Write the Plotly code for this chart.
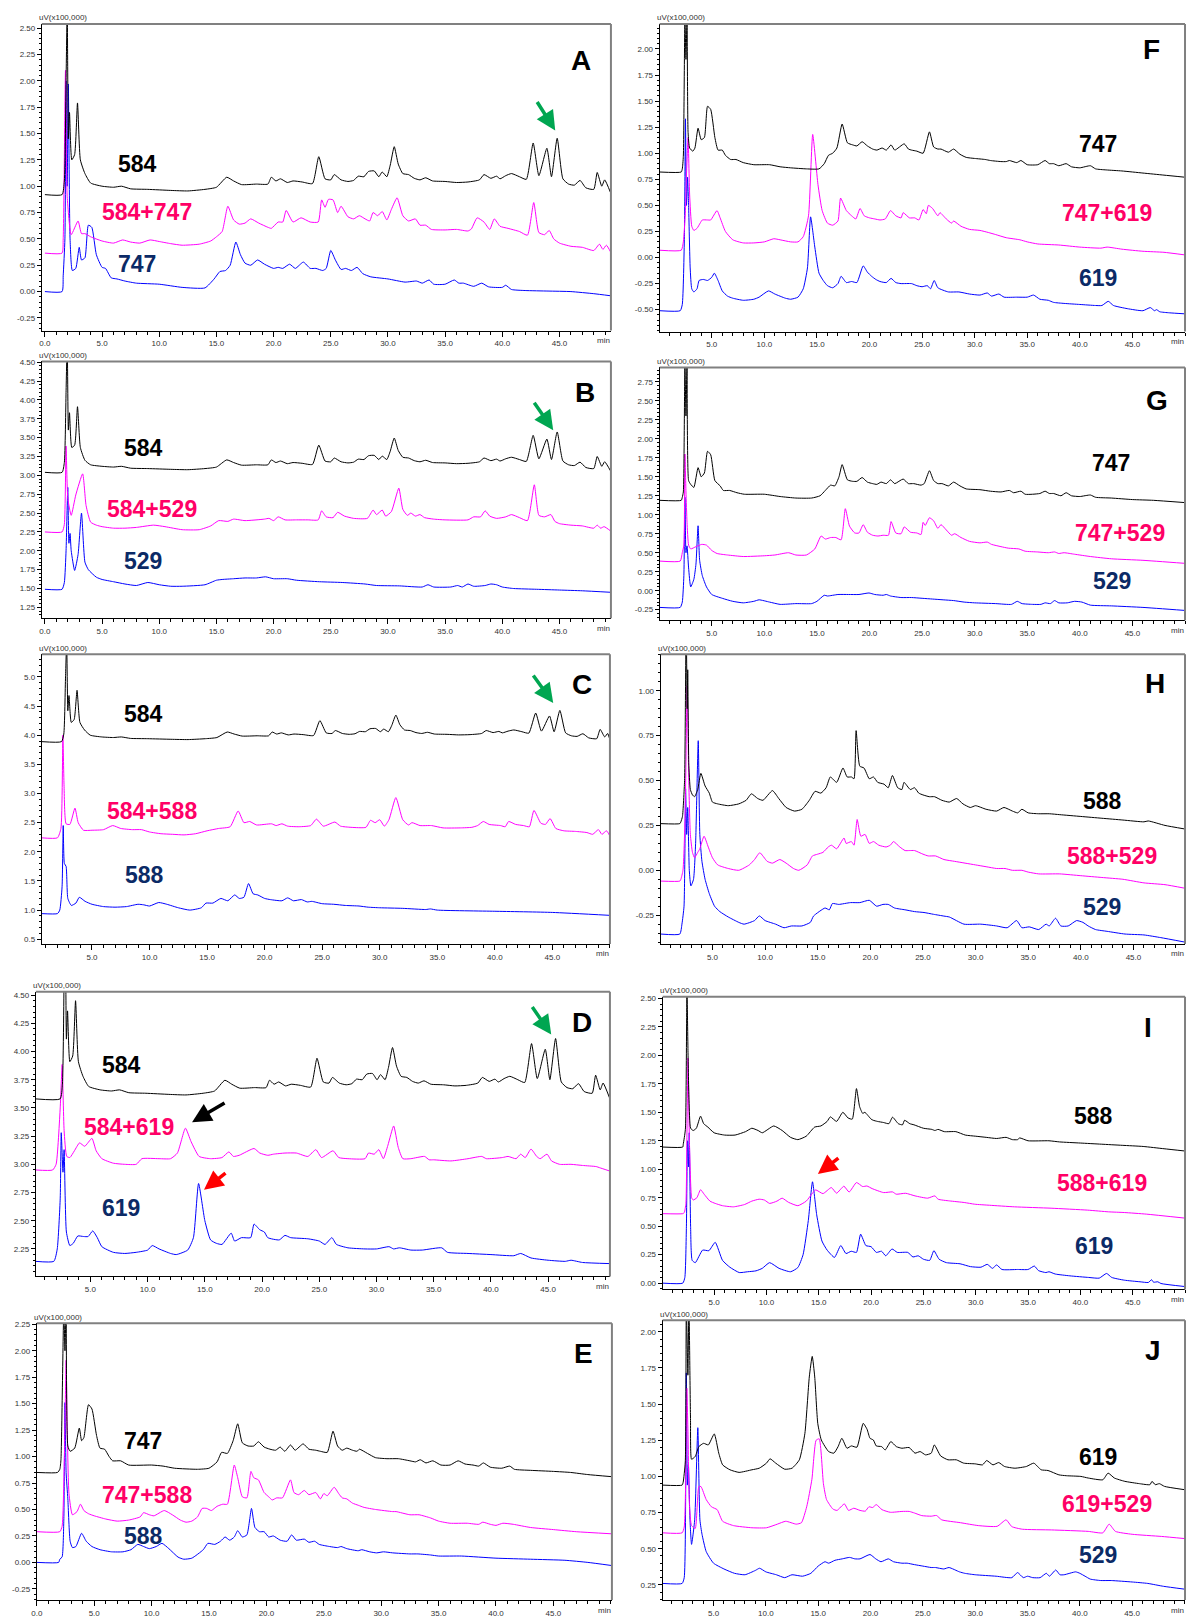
import plotly.graph_objects as go

FIG_W, FIG_H = 1187, 1618

# ---------------- tick labels ----------------
X_TICKS = ["0.0", "5.0", "10.0", "15.0", "20.0", "25.0", "30.0", "35.0", "40.0", "45.0"]
A_YT = ["-0.25", "0.00", "0.25", "0.50", "0.75", "1.00", "1.25", "1.50", "1.75", "2.00", "2.25", "2.50"]
B_YT = ["1.25", "1.50", "1.75", "2.00", "2.25", "2.50", "2.75", "3.00", "3.25", "3.50", "3.75", "4.00", "4.25", "4.50"]
C_YT = ["0.5", "1.0", "1.5", "2.0", "2.5", "3.0", "3.5", "4.0", "4.5", "5.0"]
D_YT = ["2.25", "2.50", "2.75", "3.00", "3.25", "3.50", "3.75", "4.00", "4.25", "4.50"]
E_YT = ["-0.25", "0.00", "0.25", "0.50", "0.75", "1.00", "1.25", "1.50", "1.75", "2.00", "2.25"]
F_YT = ["-0.50", "-0.25", "0.00", "0.25", "0.50", "0.75", "1.00", "1.25", "1.50", "1.75", "2.00"]
G_YT = ["-0.25", "0.00", "0.25", "0.50", "0.75", "1.00", "1.25", "1.50", "1.75", "2.00", "2.25", "2.50", "2.75"]
H_YT = ["-0.25", "0.00", "0.25", "0.50", "0.75", "1.00"]
I_YT = ["0.00", "0.25", "0.50", "0.75", "1.00", "1.25", "1.50", "1.75", "2.00", "2.25", "2.50"]
J_YT = ["0.25", "0.50", "0.75", "1.00", "1.25", "1.50", "1.75", "2.00"]

# ---------------- chromatogram data: (time min, signal uV x100,000) ----------------
A_584 = [(0,0.92),(1.5,0.92),(1.7,1.05),(1.85,2.0),(1.95,2.7),(2.05,1.45),(2.15,1.70),(2.35,1.25),(2.6,1.30),(2.85,1.79),(3.1,1.25),(3.5,1.12),(4.0,1.03),(5.0,1.0),(6.0,0.99),(6.7,1.0),(7.5,0.975),(9.0,0.97),(11.0,0.96),(12.5,0.955),(14.0,0.97),(15.0,0.99),(15.9,1.085),(16.5,1.05),(17.2,1.015),(18.5,1.02),(19.5,1.02),(19.8,1.085),(20.2,1.05),(20.6,1.07),(21.2,1.035),(21.7,1.05),(22.5,1.04),(23.4,1.025),(23.95,1.28),(24.5,1.07),(25.0,1.06),(25.3,1.11),(25.9,1.06),(26.5,1.045),(27.0,1.055),(27.4,1.095),(27.9,1.09),(28.3,1.14),(28.8,1.145),(29.2,1.09),(29.5,1.135),(29.9,1.09),(30.2,1.2),(30.55,1.375),(30.9,1.21),(31.3,1.12),(31.8,1.11),(32.3,1.075),(32.8,1.06),(33.3,1.08),(33.9,1.05),(35.0,1.045),(36.0,1.035),(37.0,1.04),(38.0,1.06),(38.4,1.11),(39.0,1.075),(39.5,1.095),(39.8,1.07),(40.3,1.10),(40.8,1.12),(41.5,1.09),(42.1,1.065),(42.7,1.41),(43.2,1.1),(43.9,1.36),(44.3,1.09),(44.8,1.455),(45.3,1.07),(45.8,1.02),(46.3,1.01),(46.8,1.055),(47.3,0.985),(48.0,0.97),(48.3,1.13),(48.7,1.0),(48.95,1.06),(49.5,0.93)]
A_MIX = [(0,0.365),(1.5,0.365),(1.6,0.5),(1.8,2.1),(1.95,0.9),(2.3,0.54),(2.9,0.67),(3.2,0.55),(3.5,0.55),(4.0,0.52),(5.0,0.48),(6.0,0.46),(6.8,0.49),(7.5,0.47),(8.3,0.46),(9.2,0.49),(10.0,0.475),(11.0,0.455),(12.0,0.44),(13.5,0.45),(14.5,0.48),(15.0,0.52),(15.5,0.57),(16.0,0.81),(16.5,0.68),(17.0,0.64),(17.5,0.65),(18.0,0.69),(18.7,0.65),(19.5,0.61),(19.8,0.60),(20.4,0.66),(20.8,0.66),(21.1,0.77),(21.7,0.66),(22.4,0.70),(23.2,0.66),(23.9,0.66),(24.2,0.87),(24.5,0.80),(24.8,0.875),(25.2,0.87),(25.6,0.75),(25.9,0.81),(26.5,0.71),(27.0,0.69),(27.5,0.72),(28.0,0.69),(28.4,0.67),(28.7,0.75),(29.1,0.72),(29.5,0.76),(29.9,0.68),(30.3,0.78),(30.8,0.89),(31.3,0.72),(31.8,0.67),(32.4,0.69),(32.8,0.63),(33.3,0.63),(33.8,0.59),(35.0,0.585),(36.0,0.59),(37.0,0.575),(37.3,0.595),(37.8,0.70),(38.4,0.66),(38.9,0.59),(39.3,0.69),(39.8,0.62),(40.5,0.60),(41.5,0.57),(42.2,0.535),(42.75,0.845),(43.2,0.56),(43.7,0.54),(44.1,0.58),(44.5,0.50),(45.0,0.46),(46.0,0.43),(47.0,0.42),(48.0,0.39),(48.5,0.45),(48.8,0.40),(49.1,0.44),(49.5,0.37)]
A_747 = [(0,0.0),(1.5,0.0),(1.6,0.15),(1.75,0.5),(1.85,2.0),(1.95,1.0),(2.05,1.97),(2.2,0.5),(2.4,0.2),(2.7,0.22),(3.0,0.42),(3.2,0.30),(3.5,0.32),(3.8,0.63),(4.1,0.61),(4.5,0.35),(5.0,0.23),(5.3,0.22),(5.8,0.13),(6.3,0.12),(7.0,0.10),(8.0,0.08),(10.0,0.07),(12.0,0.04),(14.0,0.035),(14.8,0.12),(15.3,0.19),(15.8,0.20),(16.2,0.25),(16.7,0.47),(17.1,0.35),(17.5,0.27),(18.0,0.25),(18.6,0.30),(19.2,0.26),(20.0,0.22),(20.4,0.23),(20.8,0.22),(21.4,0.26),(21.9,0.22),(22.6,0.28),(23.2,0.22),(23.7,0.22),(24.3,0.20),(24.6,0.22),(25.0,0.39),(25.4,0.30),(25.9,0.21),(26.3,0.22),(26.8,0.20),(27.3,0.23),(27.8,0.17),(28.5,0.14),(30.0,0.12),(31.5,0.09),(32.5,0.10),(33.0,0.08),(33.6,0.11),(34.0,0.07),(35.0,0.07),(35.8,0.11),(36.2,0.08),(36.6,0.08),(37.5,0.05),(38.2,0.08),(38.8,0.045),(40.0,0.04),(40.3,0.06),(40.8,0.02),(42.0,0.01),(44.0,0.005),(46.0,0.0),(48.0,-0.02),(49.5,-0.04)]

B_584 = [(0,3.04),(1.5,3.04),(1.7,3.17),(1.85,4.1),(1.95,4.8),(2.05,3.6),(2.15,3.83),(2.35,3.37),(2.6,3.40),(2.85,3.91),(3.1,3.37),(3.5,3.20),(4.0,3.14),(5.0,3.12),(6.0,3.11),(6.7,3.12),(7.5,3.095),(9.0,3.09),(11.0,3.08),(12.5,3.075),(14.0,3.09),(15.0,3.11),(15.9,3.205),(16.5,3.17),(17.2,3.135),(18.5,3.14),(19.5,3.14),(19.8,3.205),(20.2,3.17),(20.6,3.19),(21.2,3.155),(21.7,3.17),(22.5,3.16),(23.4,3.145),(23.95,3.40),(24.5,3.19),(25.0,3.18),(25.3,3.23),(25.9,3.18),(26.5,3.165),(27.0,3.175),(27.4,3.215),(27.9,3.21),(28.3,3.26),(28.8,3.265),(29.2,3.21),(29.5,3.255),(29.9,3.21),(30.2,3.32),(30.55,3.495),(30.9,3.33),(31.3,3.24),(31.8,3.23),(32.3,3.195),(32.8,3.18),(33.3,3.20),(33.9,3.17),(35.0,3.165),(36.0,3.155),(37.0,3.16),(38.0,3.18),(38.4,3.23),(39.0,3.195),(39.5,3.215),(39.8,3.19),(40.3,3.22),(40.8,3.24),(41.5,3.21),(42.1,3.185),(42.7,3.53),(43.2,3.22),(43.9,3.48),(44.3,3.21),(44.8,3.575),(45.3,3.19),(45.8,3.14),(46.3,3.13),(46.8,3.175),(47.3,3.105),(48.0,3.09),(48.3,3.25),(48.7,3.12),(48.95,3.18),(49.5,3.05)]
B_MIX = [(0,2.25),(1.5,2.25),(1.7,2.35),(1.85,3.39),(2.0,2.7),(2.3,2.47),(2.7,2.74),(3.3,3.02),(3.6,2.6),(4.0,2.38),(4.5,2.34),(5.0,2.32),(6.0,2.30),(7.0,2.30),(8.0,2.31),(9.5,2.34),(10.5,2.32),(12.0,2.28),(13.5,2.28),(14.5,2.33),(15.2,2.40),(16.0,2.39),(16.5,2.42),(17.5,2.40),(19.2,2.42),(19.6,2.43),(20.0,2.40),(20.4,2.45),(21.0,2.41),(22.0,2.41),(23.0,2.41),(23.9,2.41),(24.2,2.53),(24.6,2.45),(25.2,2.44),(25.6,2.51),(26.2,2.46),(27.0,2.43),(28.2,2.43),(28.7,2.54),(29.0,2.48),(29.5,2.54),(29.8,2.46),(30.3,2.52),(30.95,2.83),(31.3,2.55),(31.7,2.47),(32.0,2.50),(32.4,2.46),(32.8,2.48),(33.2,2.44),(34.0,2.42),(35.0,2.41),(37.0,2.41),(37.5,2.45),(38.1,2.45),(38.5,2.53),(38.9,2.46),(39.5,2.43),(40.3,2.45),(40.8,2.48),(41.5,2.44),(42.2,2.40),(42.8,2.875),(43.2,2.47),(43.7,2.45),(44.25,2.48),(44.6,2.39),(45.0,2.36),(46.0,2.34),(47.0,2.33),(48.0,2.30),(48.3,2.34),(48.6,2.30),(48.9,2.32),(49.5,2.26)]
B_529 = [(0,1.49),(1.5,1.49),(1.7,1.58),(1.85,2.0),(2.0,2.84),(2.1,2.1),(2.2,2.23),(2.3,2.0),(2.6,1.74),(2.9,1.95),(3.2,2.50),(3.5,1.85),(3.8,1.75),(4.5,1.65),(5.0,1.62),(6.0,1.59),(7.0,1.56),(8.0,1.54),(9.0,1.58),(10.0,1.55),(11.0,1.53),(12.0,1.53),(14.0,1.55),(15.0,1.61),(15.5,1.62),(16.5,1.63),(17.5,1.64),(18.5,1.64),(19.3,1.655),(20.0,1.63),(21.2,1.63),(22.0,1.61),(24.0,1.59),(26.0,1.58),(28.0,1.56),(29.0,1.54),(31.0,1.535),(33.0,1.52),(33.5,1.55),(34.0,1.52),(35.5,1.52),(36.1,1.54),(36.5,1.52),(37.0,1.56),(37.5,1.53),(38.5,1.54),(39.0,1.56),(39.5,1.55),(40.0,1.52),(41.0,1.50),(43.0,1.49),(45.0,1.48),(47.0,1.47),(49.5,1.45)]

C_584 = [(0.6,3.89),(2.35,3.89),(2.55,4.02),(2.7,5.0),(2.8,5.6),(2.9,4.42),(3.0,4.68),(3.2,4.22),(3.45,4.27),(3.7,4.77),(3.95,4.22),(4.35,4.09),(4.85,4.00),(5.85,3.97),(6.85,3.96),(7.55,3.97),(8.35,3.945),(9.85,3.94),(11.85,3.93),(13.35,3.925),(14.85,3.94),(15.85,3.96),(16.75,4.055),(17.35,4.02),(18.05,3.985),(19.35,3.99),(20.35,3.99),(20.65,4.055),(21.05,4.02),(21.45,4.04),(22.05,4.005),(22.55,4.02),(23.35,4.01),(24.25,3.995),(24.8,4.25),(25.35,4.04),(25.85,4.03),(26.15,4.08),(26.75,4.03),(27.35,4.015),(27.85,4.025),(28.25,4.065),(28.75,4.06),(29.15,4.11),(29.65,4.115),(30.05,4.06),(30.35,4.105),(30.75,4.06),(31.05,4.17),(31.4,4.345),(31.75,4.18),(32.15,4.09),(32.65,4.08),(33.15,4.045),(33.65,4.03),(34.15,4.05),(34.75,4.02),(35.85,4.015),(36.85,4.005),(37.85,4.01),(38.85,4.03),(39.25,4.08),(39.85,4.045),(40.35,4.065),(40.65,4.04),(41.15,4.07),(41.65,4.09),(42.35,4.06),(42.95,4.035),(43.55,4.38),(44.05,4.07),(44.75,4.33),(45.15,4.06),(45.65,4.425),(46.15,4.04),(46.65,3.99),(47.15,3.98),(47.65,4.025),(48.15,3.955),(48.85,3.94),(49.15,4.10),(49.55,3.97),(49.8,4.03),(50.0,3.92)]
C_MIX = [(0.6,2.24),(2.0,2.24),(2.3,2.4),(2.47,4.0),(2.57,3.15),(2.75,2.48),(3.08,2.47),(3.52,2.75),(3.8,2.5),(4.26,2.37),(5.0,2.37),(6.0,2.38),(6.8,2.45),(7.5,2.40),(8.5,2.38),(9.3,2.38),(10.0,2.34),(11.0,2.31),(12.0,2.30),(13.0,2.29),(14.0,2.31),(15.0,2.36),(16.0,2.40),(17.0,2.43),(17.7,2.70),(18.2,2.50),(18.7,2.52),(19.3,2.46),(20.6,2.48),(21.0,2.45),(21.5,2.48),(22.0,2.44),(23.0,2.43),(24.0,2.45),(24.5,2.56),(25.1,2.44),(26.1,2.51),(26.6,2.44),(27.5,2.42),(28.8,2.42),(29.2,2.54),(29.6,2.50),(30.0,2.55),(30.4,2.44),(30.8,2.55),(31.4,2.93),(32.0,2.55),(32.5,2.46),(32.8,2.50),(33.5,2.45),(34.5,2.45),(35.5,2.41),(37.0,2.41),(38.0,2.42),(38.5,2.45),(39.0,2.52),(39.5,2.47),(40.5,2.45),(40.9,2.43),(41.2,2.52),(41.8,2.47),(42.5,2.45),(43.0,2.43),(43.4,2.71),(44.0,2.49),(44.4,2.47),(44.8,2.57),(45.3,2.40),(46.0,2.36),(47.0,2.35),(48.0,2.33),(48.5,2.30),(49.0,2.38),(49.3,2.30),(49.7,2.36),(50.0,2.27)]
C_588 = [(0.6,0.94),(2.0,0.94),(2.2,1.0),(2.4,1.4),(2.5,2.45),(2.6,1.80),(2.75,1.75),(2.9,1.2),(3.2,1.08),(3.6,1.12),(3.9,1.22),(4.4,1.15),(5.0,1.10),(6.0,1.06),(7.0,1.05),(8.0,1.06),(9.0,1.10),(9.5,1.09),(10.0,1.07),(10.8,1.13),(11.5,1.10),(12.5,1.04),(13.5,1.00),(14.5,1.04),(14.9,1.12),(15.5,1.12),(16.2,1.20),(16.8,1.16),(17.4,1.26),(17.8,1.20),(18.2,1.22),(18.6,1.455),(19.0,1.28),(19.4,1.26),(20.0,1.20),(20.5,1.18),(21.5,1.16),(22.0,1.21),(22.5,1.16),(23.2,1.18),(23.7,1.14),(24.1,1.15),(25.0,1.11),(26.0,1.10),(27.0,1.08),(28.2,1.07),(29.0,1.05),(30.0,1.04),(32.0,1.03),(34.0,1.01),(34.4,1.02),(35.0,1.0),(40.0,0.98),(45.0,0.96),(50.0,0.91)]

D_584 = [(0.2,3.58),(2.35,3.58),(2.55,3.71),(2.7,4.66),(2.8,5.2),(2.9,4.11),(3.0,4.36),(3.2,3.91),(3.45,3.96),(3.7,4.45),(3.95,3.91),(4.35,3.78),(4.85,3.69),(5.85,3.66),(6.85,3.65),(7.55,3.66),(8.35,3.635),(9.85,3.63),(11.85,3.62),(13.35,3.615),(14.85,3.63),(15.85,3.65),(16.75,3.745),(17.35,3.71),(18.05,3.675),(19.35,3.68),(20.35,3.68),(20.65,3.745),(21.05,3.71),(21.45,3.73),(22.05,3.695),(22.55,3.71),(23.35,3.70),(24.25,3.685),(24.8,3.94),(25.35,3.73),(25.85,3.72),(26.15,3.77),(26.75,3.72),(27.35,3.705),(27.85,3.715),(28.25,3.755),(28.75,3.75),(29.15,3.80),(29.65,3.805),(30.05,3.75),(30.35,3.795),(30.75,3.75),(31.05,3.86),(31.4,4.035),(31.75,3.87),(32.15,3.78),(32.65,3.77),(33.15,3.735),(33.65,3.72),(34.15,3.74),(34.75,3.71),(35.85,3.705),(36.85,3.695),(37.85,3.70),(38.85,3.72),(39.25,3.77),(39.85,3.735),(40.35,3.755),(40.65,3.73),(41.15,3.76),(41.65,3.78),(42.35,3.75),(42.95,3.725),(43.55,4.07),(44.05,3.76),(44.75,4.02),(45.15,3.75),(45.65,4.115),(46.15,3.73),(46.65,3.68),(47.15,3.67),(47.65,3.715),(48.15,3.645),(48.85,3.63),(49.15,3.79),(49.55,3.66),(49.8,3.72),(50.4,3.58)]
D_MIX = [(0.2,2.95),(1.7,2.95),(2.0,3.0),(2.36,3.5),(2.53,3.885),(2.7,3.3),(2.93,3.07),(3.2,3.06),(3.6,3.12),(4.05,3.19),(4.5,3.16),(5.13,3.23),(5.5,3.12),(6.0,3.05),(7.0,3.01),(8.0,3.0),(9.0,3.0),(9.5,3.05),(11.0,3.05),(12.0,3.05),(12.6,3.1),(13.3,3.32),(13.8,3.2),(14.5,3.07),(15.5,3.05),(16.5,3.06),(17.1,3.11),(17.5,3.07),(18.0,3.08),(19.3,3.14),(19.8,3.10),(20.5,3.08),(21.0,3.09),(22.0,3.10),(23.0,3.10),(24.0,3.07),(24.7,3.13),(25.2,3.06),(26.2,3.12),(26.7,3.06),(27.5,3.05),(29.0,3.05),(29.3,3.10),(29.8,3.09),(30.2,3.13),(30.6,3.05),(31.0,3.17),(31.5,3.34),(31.9,3.15),(32.3,3.05),(33.0,3.05),(34.2,3.07),(34.6,3.04),(35.0,3.04),(36.5,3.03),(38.0,3.05),(39.2,3.07),(39.6,3.05),(41.0,3.06),(41.5,3.07),(42.2,3.05),(42.6,3.09),(43.0,3.06),(43.5,3.135),(44.0,3.07),(44.3,3.05),(44.9,3.09),(45.3,3.03),(46.0,3.0),(47.0,3.0),(48.0,2.99),(49.2,2.98),(49.5,2.97),(50.4,2.94)]
D_619 = [(0.2,2.14),(1.8,2.14),(2.1,2.25),(2.36,2.7),(2.45,3.28),(2.6,2.93),(2.7,3.13),(2.9,2.4),(3.2,2.28),(3.5,2.30),(3.9,2.365),(4.4,2.36),(4.8,2.36),(5.2,2.41),(5.6,2.35),(6.0,2.27),(7.0,2.22),(8.0,2.21),(9.0,2.22),(10.0,2.24),(10.4,2.28),(11.0,2.25),(12.0,2.21),(12.5,2.20),(13.5,2.24),(14.0,2.35),(14.45,2.83),(15.0,2.5),(15.5,2.33),(16.0,2.30),(16.5,2.29),(17.3,2.39),(17.6,2.32),(18.2,2.35),(19.0,2.35),(19.3,2.47),(19.8,2.42),(20.2,2.40),(20.5,2.35),(21.5,2.33),(22.0,2.37),(22.5,2.35),(24.0,2.34),(25.0,2.32),(25.5,2.29),(26.1,2.35),(26.5,2.29),(27.5,2.26),(29.0,2.25),(30.0,2.25),(31.1,2.27),(31.5,2.25),(32.0,2.26),(33.0,2.24),(34.0,2.24),(35.7,2.26),(36.2,2.22),(38.0,2.21),(40.0,2.20),(42.0,2.19),(42.6,2.21),(43.5,2.17),(45.0,2.15),(46.5,2.14),(47.0,2.15),(48.0,2.13),(50.4,2.12)]

E_747 = [(0,0.85),(1.8,0.85),(2.0,0.88),(2.1,0.97),(2.35,2.4),(2.45,2.0),(2.55,2.4),(2.7,1.1),(2.9,1.05),(3.3,1.08),(3.7,1.27),(3.9,1.15),(4.1,1.18),(4.5,1.49),(4.8,1.45),(5.2,1.2),(5.5,1.08),(5.9,1.07),(6.3,1.0),(6.6,0.96),(7.3,0.96),(8.0,0.92),(10.0,0.92),(11.0,0.91),(12.0,0.89),(14.0,0.88),(15.0,0.89),(15.7,0.95),(16.1,1.04),(16.6,1.03),(17.1,1.15),(17.5,1.31),(17.9,1.13),(18.4,1.10),(18.9,1.10),(19.3,1.14),(19.8,1.09),(20.3,1.07),(20.8,1.06),(21.2,1.09),(21.6,1.05),(22.1,1.11),(22.5,1.06),(23.2,1.12),(23.7,1.07),(24.3,1.06),(24.7,1.05),(25.3,1.04),(25.8,1.24),(26.2,1.10),(26.6,1.06),(27.0,1.08),(27.5,1.06),(27.9,1.05),(28.1,1.07),(28.8,1.03),(29.5,0.99),(30.5,0.98),(31.5,0.98),(32.5,0.96),(33.0,0.95),(33.4,0.97),(33.9,0.94),(34.5,0.96),(35.2,0.92),(36.0,0.92),(36.7,0.96),(37.3,0.93),(38.0,0.92),(38.5,0.91),(38.9,0.94),(39.5,0.90),(40.5,0.89),(41.2,0.91),(41.6,0.88),(43.0,0.87),(45.0,0.86),(46.5,0.85),(48.0,0.83),(50.1,0.81)]
E_MIX = [(0,0.29),(2.0,0.29),(2.2,0.34),(2.4,1.0),(2.55,1.91),(2.65,1.25),(2.8,0.65),(3.1,0.45),(3.5,0.48),(3.8,0.55),(4.1,0.49),(4.5,0.46),(5.0,0.44),(6.0,0.41),(7.0,0.39),(8.0,0.40),(9.0,0.43),(9.3,0.47),(9.8,0.45),(10.2,0.44),(11.1,0.49),(11.8,0.45),(12.5,0.40),(13.0,0.38),(13.5,0.39),(14.0,0.43),(14.4,0.51),(14.8,0.51),(15.2,0.49),(15.7,0.53),(16.2,0.55),(16.6,0.55),(17.2,0.92),(17.5,0.80),(17.9,0.62),(18.3,0.61),(18.65,0.86),(18.9,0.80),(19.3,0.78),(19.8,0.66),(20.2,0.62),(20.5,0.59),(20.9,0.61),(21.4,0.61),(22.1,0.78),(22.4,0.66),(22.8,0.64),(23.3,0.68),(23.7,0.64),(24.3,0.66),(24.7,0.60),(25.0,0.65),(25.3,0.63),(25.9,0.71),(26.3,0.65),(26.6,0.61),(27.0,0.60),(27.5,0.56),(28.0,0.54),(28.5,0.52),(29.5,0.50),(31.0,0.48),(31.3,0.48),(32.5,0.45),(33.3,0.45),(34.3,0.42),(35.0,0.39),(36.0,0.37),(37.5,0.37),(38.5,0.36),(38.85,0.38),(39.5,0.36),(40.0,0.35),(40.6,0.37),(41.5,0.36),(43.0,0.33),(45.0,0.31),(47.0,0.29),(50.1,0.27)]
E_588 = [(0,0.0),(1.9,0.0),(2.0,0.03),(2.2,0.05),(2.35,0.4),(2.45,1.51),(2.55,0.85),(2.7,0.6),(2.9,0.2),(3.1,0.14),(3.4,0.15),(3.9,0.275),(4.3,0.2),(4.8,0.15),(5.5,0.12),(6.5,0.10),(7.5,0.10),(8.2,0.12),(8.8,0.17),(9.3,0.15),(9.8,0.13),(10.4,0.15),(10.9,0.18),(11.5,0.13),(12.3,0.05),(12.8,0.03),(13.5,0.04),(14.5,0.12),(14.9,0.18),(15.5,0.17),(16.0,0.20),(16.4,0.24),(16.8,0.21),(17.2,0.24),(17.5,0.30),(17.9,0.24),(18.3,0.26),(18.7,0.51),(19.0,0.33),(19.4,0.29),(19.8,0.29),(20.2,0.24),(20.6,0.25),(21.2,0.21),(21.8,0.20),(22.2,0.26),(22.6,0.21),(23.3,0.22),(23.7,0.19),(24.2,0.20),(24.6,0.17),(25.5,0.15),(26.2,0.14),(26.5,0.15),(27.0,0.13),(28.0,0.11),(28.3,0.12),(29.0,0.10),(29.6,0.09),(30.2,0.10),(31.0,0.09),(32.5,0.08),(33.2,0.08),(34.3,0.07),(35.0,0.06),(37.0,0.06),(40.0,0.04),(43.0,0.03),(46.0,0.02),(48.0,0.0),(50.1,-0.03)]

F_747 = [(0.05,0.82),(2.1,0.82),(2.2,0.85),(2.3,0.97),(2.45,2.3),(2.55,1.9),(2.65,2.3),(2.75,1.2),(2.9,1.05),(3.2,1.02),(3.4,1.05),(3.7,1.24),(4.0,1.13),(4.3,1.15),(4.6,1.45),(4.9,1.42),(5.3,1.15),(5.6,1.03),(6.0,1.03),(6.3,0.98),(6.8,0.94),(7.3,0.94),(8.0,0.91),(9.0,0.89),(10.5,0.89),(11.5,0.87),(12.5,0.86),(14.0,0.85),(15.2,0.85),(15.7,0.90),(16.1,0.98),(16.5,1.0),(16.9,1.05),(17.4,1.28),(17.9,1.10),(18.4,1.08),(18.8,1.07),(19.3,1.11),(19.8,1.07),(20.3,1.04),(20.7,1.03),(21.2,1.05),(21.6,1.03),(22.05,1.08),(22.4,1.03),(23.3,1.09),(23.7,1.04),(24.0,1.03),(24.5,1.02),(25.1,1.0),(25.7,1.205),(26.1,1.06),(26.5,1.04),(26.8,1.04),(27.5,1.01),(28.0,1.04),(28.6,0.99),(29.2,0.96),(30.0,0.95),(31.0,0.94),(31.5,0.93),(32.5,0.92),(33.0,0.92),(33.3,0.93),(34.0,0.91),(34.4,0.93),(35.0,0.89),(36.0,0.89),(36.7,0.93),(37.1,0.90),(37.5,0.90),(38.0,0.88),(38.7,0.90),(39.2,0.87),(40.0,0.86),(41.0,0.88),(41.5,0.85),(42.5,0.84),(44.0,0.83),(46.0,0.81),(48.0,0.79),(50.0,0.77)]
F_MIX = [(0.05,0.07),(2.1,0.07),(2.3,0.15),(2.5,0.45),(2.6,0.8),(2.75,1.15),(2.9,0.6),(3.1,0.3),(3.3,0.26),(3.6,0.28),(3.9,0.33),(4.1,0.36),(4.6,0.36),(4.9,0.36),(5.5,0.45),(5.8,0.38),(6.3,0.25),(7.0,0.17),(8.0,0.14),(9.0,0.14),(10.0,0.15),(10.9,0.18),(11.5,0.17),(12.5,0.15),(13.2,0.15),(13.7,0.20),(14.2,0.40),(14.6,1.18),(15.1,0.70),(15.5,0.45),(16.0,0.33),(16.5,0.31),(17.0,0.35),(17.25,0.57),(17.8,0.45),(18.3,0.40),(18.7,0.37),(19.1,0.47),(19.5,0.40),(20.0,0.38),(20.5,0.37),(21.0,0.36),(21.5,0.37),(22.0,0.45),(22.5,0.40),(23.0,0.38),(23.2,0.43),(23.8,0.38),(24.3,0.38),(24.7,0.36),(25.1,0.46),(25.4,0.42),(25.6,0.50),(26.0,0.47),(26.5,0.40),(26.7,0.43),(27.3,0.37),(27.8,0.33),(28.0,0.35),(28.7,0.30),(29.5,0.27),(30.5,0.26),(31.3,0.24),(32.0,0.22),(33.0,0.19),(34.3,0.17),(35.0,0.15),(36.0,0.13),(38.0,0.12),(40.0,0.10),(42.0,0.09),(42.6,0.10),(44.0,0.08),(46.0,0.06),(48.0,0.05),(50.0,0.025)]
F_619 = [(0.05,-0.51),(2.0,-0.51),(2.2,-0.45),(2.4,0.2),(2.5,1.33),(2.6,0.5),(2.7,0.77),(2.8,0.5),(2.95,-0.1),(3.1,-0.3),(3.3,-0.33),(3.6,-0.30),(3.8,-0.22),(4.2,-0.21),(4.6,-0.22),(5.0,-0.19),(5.25,-0.15),(5.6,-0.22),(6.0,-0.32),(6.5,-0.37),(7.0,-0.39),(8.0,-0.41),(9.0,-0.40),(9.5,-0.38),(10.4,-0.32),(11.0,-0.35),(12.0,-0.39),(12.5,-0.40),(13.2,-0.38),(13.7,-0.30),(14.1,-0.10),(14.4,0.39),(14.8,0.10),(15.2,-0.15),(15.6,-0.22),(16.0,-0.27),(16.5,-0.29),(17.0,-0.25),(17.3,-0.18),(17.8,-0.24),(18.3,-0.23),(18.8,-0.24),(19.4,-0.08),(19.8,-0.14),(20.2,-0.18),(20.6,-0.21),(21.0,-0.23),(21.6,-0.24),(22.05,-0.20),(22.5,-0.24),(23.0,-0.25),(24.0,-0.25),(24.5,-0.27),(25.0,-0.28),(25.5,-0.27),(25.8,-0.30),(26.15,-0.22),(26.5,-0.29),(27.5,-0.33),(28.5,-0.33),(29.5,-0.35),(30.5,-0.36),(31.2,-0.34),(31.6,-0.37),(32.3,-0.35),(32.8,-0.38),(34.0,-0.38),(35.0,-0.38),(35.6,-0.36),(36.2,-0.40),(37.0,-0.41),(37.5,-0.43),(38.5,-0.44),(40.0,-0.45),(41.5,-0.46),(42.1,-0.46),(42.7,-0.42),(43.2,-0.46),(44.5,-0.49),(46.0,-0.51),(46.7,-0.48),(47.1,-0.51),(47.3,-0.50),(47.6,-0.52),(48.5,-0.53),(50.0,-0.54)]

G_747 = [(0.05,1.19),(2.1,1.19),(2.2,1.23),(2.3,1.3),(2.45,3.0),(2.55,2.3),(2.65,3.0),(2.8,1.45),(3.0,1.40),(3.3,1.36),(3.7,1.62),(4.0,1.50),(4.3,1.55),(4.6,1.835),(4.9,1.79),(5.3,1.45),(5.8,1.38),(6.1,1.32),(6.7,1.32),(7.4,1.29),(8.1,1.27),(10.0,1.27),(11.5,1.24),(13.0,1.22),(14.5,1.22),(15.3,1.25),(15.8,1.32),(16.3,1.39),(16.7,1.38),(17.1,1.50),(17.4,1.66),(17.9,1.46),(18.4,1.44),(18.8,1.44),(19.3,1.49),(19.8,1.43),(20.3,1.41),(20.7,1.40),(21.1,1.43),(21.6,1.41),(22.0,1.46),(22.4,1.41),(23.2,1.47),(23.7,1.41),(24.2,1.41),(24.9,1.39),(25.2,1.41),(25.7,1.58),(26.1,1.45),(26.5,1.41),(26.9,1.41),(27.5,1.38),(28.0,1.43),(28.6,1.38),(29.2,1.34),(30.5,1.33),(31.5,1.31),(32.5,1.30),(33.3,1.32),(33.7,1.29),(34.4,1.31),(34.8,1.27),(35.5,1.27),(36.2,1.28),(36.7,1.31),(37.1,1.28),(37.5,1.28),(38.2,1.25),(38.7,1.29),(39.2,1.25),(40.0,1.24),(41.0,1.26),(41.5,1.23),(43.0,1.22),(45.0,1.20),(47.0,1.19),(50.0,1.16)]
G_MIX = [(0.05,0.39),(2.0,0.39),(2.2,0.5),(2.35,0.6),(2.45,1.80),(2.55,1.3),(2.65,0.9),(2.8,0.6),(3.0,0.55),(3.5,0.58),(4.05,0.61),(4.5,0.60),(5.0,0.53),(5.5,0.49),(6.5,0.47),(8.0,0.45),(10.0,0.46),(11.0,0.47),(12.3,0.50),(13.0,0.47),(14.0,0.47),(14.8,0.55),(15.4,0.72),(15.8,0.68),(16.3,0.70),(16.8,0.70),(17.3,0.67),(17.7,1.08),(18.1,0.85),(18.6,0.76),(19.0,0.76),(19.4,0.87),(19.8,0.77),(20.3,0.73),(20.8,0.72),(21.3,0.73),(21.8,0.73),(22.05,0.91),(22.5,0.76),(23.0,0.75),(23.3,0.84),(23.9,0.77),(24.5,0.76),(24.9,0.74),(25.1,0.90),(25.3,0.86),(25.7,0.96),(26.1,0.92),(26.5,0.82),(26.8,0.87),(27.3,0.80),(27.8,0.73),(28.1,0.75),(28.7,0.70),(29.5,0.65),(30.5,0.63),(31.2,0.64),(31.6,0.61),(32.5,0.58),(33.2,0.56),(34.2,0.55),(34.8,0.52),(36.0,0.51),(37.0,0.50),(37.6,0.51),(38.0,0.49),(38.5,0.50),(39.5,0.48),(41.0,0.45),(43.0,0.42),(46.0,0.40),(50.0,0.36)]
G_529 = [(0.05,-0.22),(2.0,-0.22),(2.2,-0.15),(2.35,0.2),(2.45,1.23),(2.55,0.5),(2.65,0.59),(2.8,0.3),(3.0,0.05),(3.3,0.15),(3.5,0.35),(3.7,0.855),(3.85,0.4),(4.1,0.2),(4.5,0.05),(5.0,-0.05),(6.0,-0.10),(7.0,-0.14),(8.0,-0.16),(9.0,-0.14),(9.5,-0.12),(10.5,-0.15),(11.5,-0.18),(13.0,-0.17),(14.5,-0.17),(15.0,-0.14),(15.7,-0.06),(16.0,-0.07),(17.0,-0.05),(18.0,-0.05),(19.0,-0.05),(19.95,-0.03),(20.5,-0.05),(21.3,-0.06),(21.6,-0.05),(22.0,-0.07),(23.0,-0.09),(24.0,-0.09),(25.0,-0.10),(26.0,-0.11),(27.0,-0.12),(28.0,-0.13),(29.0,-0.15),(30.0,-0.16),(32.0,-0.17),(33.5,-0.18),(34.05,-0.14),(34.5,-0.17),(35.5,-0.18),(36.3,-0.18),(36.7,-0.16),(37.2,-0.17),(37.6,-0.13),(38.0,-0.16),(38.8,-0.16),(39.5,-0.14),(40.2,-0.15),(41.0,-0.19),(43.0,-0.20),(46.0,-0.22),(50.0,-0.26)]

H_588 = [(0.08,0.26),(1.9,0.26),(2.0,0.27),(2.15,0.30),(2.35,0.5),(2.5,1.4),(2.6,0.9),(2.65,1.117),(2.75,0.6),(2.9,0.45),(3.1,0.42),(3.3,0.41),(3.6,0.45),(3.9,0.54),(4.3,0.47),(4.7,0.43),(5.0,0.38),(5.5,0.37),(6.5,0.36),(7.5,0.37),(8.2,0.39),(8.7,0.426),(9.3,0.40),(9.8,0.39),(10.7,0.444),(11.3,0.40),(12.0,0.35),(12.8,0.33),(13.5,0.34),(14.2,0.39),(14.75,0.44),(15.3,0.43),(15.8,0.46),(16.2,0.52),(16.8,0.49),(17.4,0.57),(17.8,0.52),(18.2,0.52),(18.45,0.51),(18.65,0.778),(19.0,0.58),(19.4,0.57),(19.9,0.51),(20.3,0.52),(20.7,0.49),(21.3,0.48),(21.7,0.46),(22.1,0.528),(22.6,0.46),(23.0,0.45),(23.2,0.49),(23.8,0.45),(24.2,0.46),(24.6,0.43),(25.0,0.42),(25.6,0.41),(26.1,0.41),(26.8,0.39),(27.5,0.38),(28.2,0.40),(28.8,0.37),(29.5,0.35),(30.0,0.36),(31.0,0.34),(32.0,0.33),(32.7,0.35),(33.5,0.33),(34.0,0.32),(34.4,0.34),(35.0,0.32),(36.0,0.315),(37.0,0.315),(38.0,0.31),(40.0,0.30),(42.0,0.29),(44.0,0.28),(46.0,0.27),(46.4,0.275),(48.0,0.25),(49.9,0.23)]
H_MIX = [(0.08,-0.06),(1.9,-0.06),(2.0,-0.05),(2.2,0.0),(2.4,0.3),(2.6,1.03),(2.75,0.5),(2.9,0.2),(3.1,0.1),(3.3,0.07),(3.6,0.10),(3.8,0.12),(4.2,0.19),(4.6,0.13),(5.0,0.07),(5.5,0.03),(6.5,0.01),(7.5,0.0),(8.5,0.03),(9.0,0.06),(9.5,0.098),(10.2,0.05),(10.7,0.04),(11.4,0.06),(12.0,0.04),(12.7,0.01),(13.2,0.0),(14.0,0.03),(14.5,0.08),(15.0,0.09),(15.5,0.10),(16.0,0.13),(16.3,0.14),(16.8,0.12),(17.5,0.18),(17.7,0.15),(18.2,0.16),(18.45,0.14),(18.75,0.283),(19.1,0.19),(19.5,0.20),(19.9,0.15),(20.3,0.16),(20.8,0.14),(21.5,0.13),(21.9,0.14),(22.2,0.16),(22.8,0.13),(23.3,0.11),(23.7,0.11),(24.2,0.11),(25.0,0.09),(25.5,0.08),(26.2,0.08),(27.0,0.06),(28.0,0.05),(29.0,0.04),(30.0,0.03),(31.0,0.02),(32.0,0.01),(32.8,0.01),(33.5,0.0),(34.4,0.0),(35.0,-0.01),(36.0,-0.02),(38.0,-0.02),(40.0,-0.03),(42.0,-0.04),(44.0,-0.05),(46.0,-0.07),(48.0,-0.08),(49.9,-0.10)]
H_529 = [(0.08,-0.355),(1.9,-0.355),(2.1,-0.30),(2.3,-0.2),(2.45,0.454),(2.55,0.2),(2.65,0.35),(2.8,0.0),(2.95,-0.087),(3.2,-0.05),(3.4,0.15),(3.65,0.722),(3.8,0.2),(4.0,0.05),(4.3,-0.05),(4.7,-0.13),(5.2,-0.20),(5.7,-0.23),(6.5,-0.26),(7.5,-0.29),(8.0,-0.30),(9.0,-0.28),(9.45,-0.254),(10.0,-0.28),(11.0,-0.30),(11.8,-0.32),(12.5,-0.31),(13.5,-0.31),(14.3,-0.29),(14.6,-0.255),(15.7,-0.21),(16.1,-0.22),(16.4,-0.185),(17.0,-0.19),(18.1,-0.18),(19.0,-0.18),(19.9,-0.167),(20.6,-0.20),(21.2,-0.19),(21.7,-0.19),(22.3,-0.21),(23.3,-0.22),(24.2,-0.23),(25.1,-0.235),(26.0,-0.245),(27.0,-0.255),(27.5,-0.26),(28.9,-0.30),(30.5,-0.30),(32.0,-0.31),(33.0,-0.32),(33.9,-0.28),(34.4,-0.32),(35.1,-0.315),(36.0,-0.33),(36.7,-0.30),(37.0,-0.31),(37.6,-0.267),(38.1,-0.31),(38.8,-0.31),(39.6,-0.28),(40.2,-0.29),(40.7,-0.31),(41.4,-0.33),(42.5,-0.34),(44.2,-0.355),(46.0,-0.36),(47.6,-0.375),(49.9,-0.40)]

I_588 = [(0.08,1.195),(2.0,1.195),(2.05,1.22),(2.25,1.35),(2.4,2.6),(2.5,2.04),(2.6,1.6),(2.75,1.36),(3.0,1.34),(3.3,1.36),(3.7,1.466),(4.0,1.40),(4.4,1.37),(5.0,1.32),(6.0,1.30),(7.0,1.30),(8.0,1.33),(8.6,1.36),(9.2,1.34),(9.6,1.32),(10.7,1.38),(11.5,1.34),(12.3,1.28),(13.0,1.26),(13.8,1.29),(14.6,1.37),(15.2,1.38),(15.8,1.42),(16.1,1.46),(16.7,1.42),(17.3,1.50),(17.8,1.45),(18.2,1.44),(18.6,1.708),(18.9,1.55),(19.2,1.49),(19.4,1.50),(20.0,1.44),(20.2,1.43),(20.6,1.42),(21.2,1.41),(21.7,1.40),(22.05,1.457),(22.6,1.40),(23.0,1.39),(23.2,1.43),(23.7,1.40),(24.1,1.39),(25.0,1.36),(25.8,1.35),(26.1,1.34),(26.4,1.35),(27.0,1.33),(28.1,1.33),(29.0,1.30),(30.0,1.29),(31.0,1.28),(32.0,1.27),(32.9,1.28),(33.5,1.26),(34.0,1.26),(34.2,1.275),(35.0,1.25),(37.0,1.25),(38.0,1.24),(40.0,1.23),(42.0,1.22),(44.0,1.21),(46.0,1.20),(48.0,1.18),(50.0,1.16)]
I_MIX = [(0.08,0.61),(2.0,0.61),(2.15,0.62),(2.3,0.7),(2.4,1.3),(2.5,1.976),(2.65,1.2),(2.85,0.75),(3.0,0.73),(3.35,0.75),(3.7,0.82),(4.05,0.78),(4.6,0.72),(5.1,0.70),(5.8,0.68),(6.85,0.67),(7.9,0.69),(8.6,0.72),(9.3,0.737),(9.8,0.73),(10.3,0.70),(11.0,0.72),(11.5,0.746),(12.1,0.71),(13.0,0.68),(13.8,0.72),(14.4,0.79),(14.7,0.819),(15.4,0.786),(16.2,0.839),(16.7,0.79),(17.4,0.851),(17.9,0.80),(18.6,0.883),(19.2,0.848),(19.6,0.853),(20.1,0.83),(21.2,0.795),(22.05,0.801),(22.4,0.781),(23.3,0.789),(24.2,0.766),(25.4,0.746),(26.1,0.766),(26.4,0.737),(27.5,0.722),(28.9,0.708),(29.9,0.693),(31.3,0.684),(33.7,0.67),(37.2,0.658),(40.7,0.641),(42.7,0.626),(44.2,0.62),(46.3,0.606),(50.0,0.571)]
I_619 = [(0.08,0.0),(2.0,0.0),(2.2,0.05),(2.35,0.5),(2.45,1.25),(2.55,1.02),(2.62,1.32),(2.75,0.5),(2.9,0.2),(3.2,0.18),(3.9,0.29),(4.5,0.285),(5.1,0.358),(5.8,0.20),(6.5,0.14),(7.4,0.093),(8.2,0.10),(9.0,0.108),(9.6,0.13),(10.3,0.18),(11.2,0.13),(12.3,0.10),(13.0,0.137),(13.5,0.25),(14.0,0.55),(14.4,0.89),(14.8,0.6),(15.3,0.37),(15.8,0.29),(16.5,0.226),(17.1,0.33),(17.6,0.26),(18.1,0.28),(18.6,0.27),(19.0,0.43),(19.5,0.33),(20.0,0.32),(20.5,0.27),(21.0,0.28),(21.4,0.24),(22.0,0.30),(22.5,0.27),(23.5,0.27),(24.0,0.23),(24.5,0.24),(25.0,0.21),(25.6,0.20),(26.0,0.285),(26.5,0.21),(27.2,0.18),(28.5,0.17),(29.5,0.145),(30.5,0.14),(31.1,0.165),(31.6,0.13),(32.0,0.16),(32.5,0.12),(34.0,0.12),(35.0,0.12),(35.6,0.15),(36.0,0.11),(36.7,0.093),(37.0,0.10),(37.6,0.08),(39.0,0.064),(40.8,0.05),(41.8,0.044),(42.5,0.085),(43.0,0.05),(44.2,0.026),(45.7,0.012),(46.5,0.006),(46.8,0.03),(47.0,0.008),(47.4,0.012),(47.7,-0.003),(50.0,-0.03)]

J_619 = [(0.14,0.94),(2.0,0.94),(2.1,0.96),(2.3,1.1),(2.4,2.2),(2.55,1.7),(2.65,2.2),(2.8,1.4),(2.9,1.119),(3.25,1.138),(3.6,1.206),(4.05,1.229),(4.5,1.218),(5.07,1.294),(5.5,1.161),(5.87,1.08),(6.57,1.046),(7.44,1.028),(8.67,1.046),(9.37,1.057),(10.06,1.092),(10.4,1.122),(10.94,1.092),(11.8,1.05),(12.5,1.057),(13.2,1.115),(13.73,1.298),(14.15,1.688),(14.43,1.83),(14.67,1.688),(14.96,1.367),(15.3,1.252),(16.0,1.172),(16.5,1.161),(16.9,1.206),(17.26,1.264),(17.75,1.195),(18.17,1.211),(18.7,1.202),(19.3,1.367),(19.67,1.326),(19.95,1.264),(20.27,1.252),(20.55,1.211),(21.07,1.206),(21.4,1.183),(21.94,1.241),(22.47,1.206),(23.0,1.195),(23.69,1.2),(24.25,1.161),(24.74,1.172),(25.26,1.149),(25.8,1.161),(26.1,1.218),(26.7,1.142),(27.4,1.115),(28.2,1.115),(28.9,1.092),(30.0,1.087),(30.7,1.08),(31.1,1.11),(31.7,1.08),(32.25,1.096),(32.8,1.069),(33.8,1.057),(34.9,1.069),(35.6,1.092),(36.3,1.046),(36.96,1.041),(38.0,1.011),(38.7,1.005),(40.1,1.0),(40.8,0.989),(42.2,0.977),(42.7,1.023),(43.3,0.989),(44.3,0.966),(45.7,0.95),(46.7,0.943),(46.9,0.966),(47.2,0.943),(47.6,0.95),(48.1,0.931),(50.05,0.908)]
J_MIX = [(0.14,0.61),(2.0,0.61),(2.2,0.65),(2.35,1.0),(2.45,1.61),(2.55,1.33),(2.7,0.8),(2.9,0.66),(3.25,0.64),(3.6,0.93),(3.8,0.93),(4.3,0.84),(4.8,0.79),(5.35,0.77),(5.87,0.69),(6.9,0.66),(8.67,0.645),(10.06,0.645),(11.1,0.67),(11.9,0.69),(12.9,0.67),(13.4,0.68),(13.9,0.79),(14.4,0.98),(14.8,1.25),(15.1,1.26),(15.5,0.95),(15.8,0.84),(16.4,0.775),(16.8,0.765),(17.5,0.81),(17.9,0.765),(18.4,0.78),(19.0,0.765),(19.5,0.76),(19.85,0.79),(20.2,0.785),(20.55,0.805),(21.1,0.77),(21.9,0.752),(23.0,0.758),(23.7,0.758),(24.2,0.747),(24.9,0.729),(25.8,0.725),(26.3,0.73),(26.8,0.70),(28.6,0.68),(30.3,0.66),(32.1,0.655),(32.95,0.70),(33.5,0.653),(34.5,0.635),(37.3,0.63),(40.8,0.62),(42.2,0.61),(42.8,0.67),(43.4,0.62),(45.0,0.60),(47.8,0.585),(50.05,0.57)]
J_529 = [(0.14,0.26),(2.0,0.26),(2.2,0.30),(2.35,1.0),(2.4,1.716),(2.5,0.94),(2.6,1.08),(2.75,0.7),(2.9,0.53),(3.2,0.70),(3.5,1.337),(3.7,0.7),(3.9,0.60),(4.3,0.48),(5.0,0.40),(6.0,0.36),(7.0,0.33),(8.0,0.32),(9.0,0.35),(9.4,0.365),(10.0,0.34),(11.0,0.32),(11.8,0.30),(12.5,0.32),(13.5,0.31),(14.3,0.33),(15.0,0.38),(15.65,0.41),(16.0,0.40),(16.6,0.42),(17.3,0.43),(18.0,0.44),(18.5,0.43),(19.0,0.43),(19.95,0.46),(20.5,0.43),(21.0,0.41),(21.7,0.43),(22.2,0.41),(23.0,0.40),(23.5,0.40),(24.2,0.39),(25.0,0.38),(25.8,0.37),(26.2,0.37),(27.0,0.36),(27.5,0.37),(28.5,0.34),(29.0,0.33),(30.0,0.32),(32.0,0.31),(33.5,0.30),(34.05,0.335),(34.6,0.30),(35.0,0.31),(35.5,0.30),(36.2,0.30),(36.8,0.33),(37.1,0.31),(37.7,0.353),(38.1,0.32),(38.5,0.32),(39.6,0.34),(40.0,0.33),(40.5,0.31),(41.0,0.29),(42.0,0.28),(43.0,0.28),(45.0,0.27),(46.5,0.26),(48.0,0.24),(50.05,0.22)]

# sample names per panel (top, mixture, bottom)
NAMES = {
    "A": ("584", "584+747", "747"), "B": ("584", "584+529", "529"),
    "C": ("584", "584+588", "588"), "D": ("584", "584+619", "619"),
    "E": ("747", "747+588", "588"), "F": ("747", "747+619", "619"),
    "G": ("747", "747+529", "529"), "H": ("588", "588+529", "529"),
    "I": ("588", "588+619", "619"), "J": ("619", "619+529", "529"),
}
DATA = {
    "A": (A_584, A_MIX, A_747), "B": (B_584, B_MIX, B_529),
    "C": (C_584, C_MIX, C_588), "D": (D_584, D_MIX, D_619),
    "E": (E_747, E_MIX, E_588), "F": (F_747, F_MIX, F_619),
    "G": (G_747, G_MIX, G_529), "H": (H_588, H_MIX, H_529),
    "I": (I_588, I_MIX, I_619), "J": (J_619, J_MIX, J_529),
}
YTICKS = {"A": A_YT, "B": B_YT, "C": C_YT, "D": D_YT, "E": E_YT,
          "F": F_YT, "G": G_YT, "H": H_YT, "I": I_YT, "J": J_YT}

# ---------------- layout / style (pixel geometry) ----------------
# box = (left, right, top, bottom) in px ; label positions in px
PANEL_STYLE = {
    "A": dict(box=(36, 608, 21, 329), xr=(-0.27, 49.5), yr=(-0.37, 2.54), minor=0.05,
              letter=(578, 58), lab=[(132, 162), (142, 210), (132, 262)]),
    "B": dict(box=(36, 608, 360, 618), xr=(-0.27, 49.5), yr=(1.105, 4.51), minor=0.05,
              letter=(582, 391), lab=[(138, 447), (147, 508), (138, 560)]),
    "C": dict(box=(36, 607, 654, 945), xr=(0.64, 50.0), yr=(0.42, 5.39), minor=0.1,
              letter=(579, 684), lab=[(138, 714), (147, 812), (139, 876)]),
    "D": dict(box=(30, 607, 993, 1279), xr=(0.23, 50.4), yr=(2.006, 4.53), minor=0.05,
              letter=(579, 1024), lab=[(116, 1067), (124, 1129), (116, 1210)]),
    "E": dict(box=(31, 609, 1326, 1604), xr=(0.0, 50.1), yr=(-0.356, 2.26), minor=0.05,
              letter=(580, 1356), lab=[(138, 1444), (142, 1498), (138, 1540)]),
    "F": dict(box=(657, 1185, 21, 330), xr=(0.05, 50.0), yr=(-0.71, 2.24), minor=0.05,
              letter=(1151, 47), lab=[(1098, 142), (1107, 211), (1098, 276)]),
    "G": dict(box=(657, 1185, 366, 620), xr=(0.05, 50.0), yr=(-0.39, 2.94), minor=0.05,
              letter=(1157, 399), lab=[(1111, 462), (1120, 532), (1112, 581)]),
    "H": dict(box=(658, 1185, 654, 945), xr=(0.08, 49.9), yr=(-0.41, 1.204), minor=0.05,
              letter=(1155, 683), lab=[(1102, 801), (1112, 857), (1102, 908)]),
    "I": dict(box=(660, 1185, 998, 1292), xr=(0.08, 50.0), yr=(-0.055, 2.515), minor=0.05,
              letter=(1148, 1029), lab=[(1093, 1118), (1102, 1185), (1094, 1248)]),
    "J": dict(box=(660, 1185, 1323, 1604), xr=(0.14, 50.05), yr=(0.145, 2.08), minor=0.05,
              letter=(1153, 1353), lab=[(1098, 1460), (1107, 1508), (1098, 1559)]),
}
# arrows: (head_x, head_y, tail_x, tail_y, color) in px
ARROWS = [
    (552, 128, 533, 98, "#00a651"),
    (550, 429, 530, 400, "#00a651"),
    (550, 703, 529, 674, "#00a651"),
    (548, 1036, 528, 1007, "#00a651"),
    (187, 1124, 221, 1104, "#000000"),
    (199, 1192, 222, 1174, "#ff0000"),
    (816, 1176, 838, 1159, "#ff0000"),
]

TRACE_COLORS = ("#000000", "#ff00ff", "#0000ff")
LABEL_COLORS = ("#000000", "#ff0066", "#0b2a66")
FONT = "Liberation Sans, Arial, sans-serif"


def px(x):
    return x / FIG_W


def py(y):
    return 1 - y / FIG_H


fig = go.Figure()
layout = dict(width=FIG_W, height=FIG_H, margin=dict(l=0, r=0, t=0, b=0),
              paper_bgcolor="white", plot_bgcolor="white", showlegend=False)
annotations = []
shapes = []

for k, letter in enumerate("ABCDEFGHIJ", start=1):
    st = PANEL_STYLE[letter]
    left, right, top, bottom = st["box"]
    xa = "x" if k == 1 else f"x{k}"
    ya = "y" if k == 1 else f"y{k}"
    xkey = "xaxis" if k == 1 else f"xaxis{k}"
    ykey = "yaxis" if k == 1 else f"yaxis{k}"
    yt = YTICKS[letter]
    layout[xkey] = dict(
        domain=[px(left), px(right)], range=list(st["xr"]), anchor=ya,
        tickmode="array", tickvals=[float(t) for t in X_TICKS], ticktext=X_TICKS,
        ticks="outside", ticklen=5, tickwidth=1, tickcolor="black",
        showline=True, linecolor="black", linewidth=1, mirror=False,
        showgrid=False, zeroline=False, fixedrange=True,
        tickfont=dict(family=FONT, size=8, color="#333333"),
        minor=dict(tickmode="linear", tick0=0, dtick=1, ticks="outside", ticklen=3,
                   tickwidth=1, tickcolor="black", showgrid=False),
    )
    layout[ykey] = dict(
        domain=[py(bottom), py(top)], range=list(st["yr"]), anchor=xa,
        tickmode="array", tickvals=[float(t) for t in yt], ticktext=yt,
        ticks="outside", ticklen=4, tickwidth=1, tickcolor="black",
        showline=True, linecolor="black", linewidth=1, mirror=False,
        showgrid=False, zeroline=False, fixedrange=True,
        tickfont=dict(family=FONT, size=8, color="#333333"),
        minor=dict(tickmode="linear", tick0=0, dtick=st["minor"], ticks="outside", ticklen=2,
                   tickwidth=1, tickcolor="black", showgrid=False),
    )
    # traces: bottom (blue) first, black on top
    for idx in (2, 1, 0):
        pts = DATA[letter][idx]
        fig.add_trace(go.Scatter(
            x=[p[0] for p in pts], y=[p[1] for p in pts], xaxis=xa, yaxis=ya,
            mode="lines", line=dict(color=TRACE_COLORS[idx], width=1, shape="spline", smoothing=0.5),
            hoverinfo="skip", name=NAMES[letter][idx]))
    # gray frame top & right
    shapes.append(dict(type="line", xref="paper", yref="paper", x0=px(left), x1=px(right),
                       y0=py(top), y1=py(top), line=dict(color="#808080", width=2)))
    shapes.append(dict(type="line", xref="paper", yref="paper", x0=px(right), x1=px(right),
                       y0=py(top), y1=py(bottom), line=dict(color="#808080", width=2)))
    # panel letter
    lx, ly = st["letter"]
    annotations.append(dict(text=f"<b>{letter}</b>", x=px(lx), y=py(ly), xref="paper", yref="paper",
                            showarrow=False, xanchor="center", yanchor="middle",
                            font=dict(family=FONT, size=28, color="black")))
    # sample labels
    for idx, (tx, ty) in enumerate(st["lab"]):
        annotations.append(dict(text=f"<b>{NAMES[letter][idx]}</b>", x=px(tx), y=py(ty),
                                xref="paper", yref="paper", showarrow=False,
                                xanchor="center", yanchor="middle",
                                font=dict(family=FONT, size=23, color=LABEL_COLORS[idx])))
    # unit label and min label
    annotations.append(dict(text="uV(x100,000)", x=px(left - 5), y=py(top - 6), xref="paper", yref="paper",
                            showarrow=False, xanchor="left", yanchor="middle",
                            font=dict(family=FONT, size=8, color="#333333")))
    annotations.append(dict(text="min", x=px(right + 1), y=py(bottom + 10), xref="paper", yref="paper",
                            showarrow=False, xanchor="right", yanchor="middle",
                            font=dict(family=FONT, size=8, color="#333333")))

for hx, hy, tx, ty, col in ARROWS:
    annotations.append(dict(text="", x=px(hx), y=py(hy), xref="paper", yref="paper",
                            ax=tx - hx, ay=ty - hy, axref="pixel", ayref="pixel",
                            showarrow=True, arrowhead=2, arrowsize=1.1, arrowwidth=3.5,
                            arrowcolor=col, standoff=0))

layout["annotations"] = annotations
layout["shapes"] = shapes
fig.update_layout(**layout)
fig.write_html("out.html", config={"displayModeBar": False, "staticPlot": True},
               post_script="document.body.style.margin='0px';")
